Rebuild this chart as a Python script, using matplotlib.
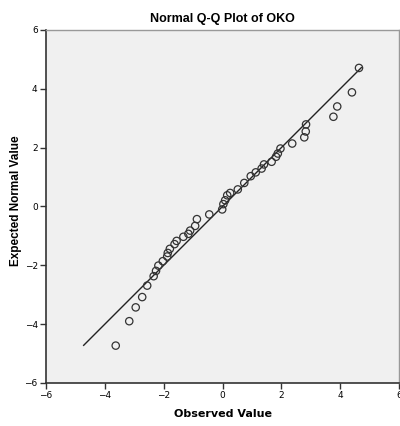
import numpy as np
import matplotlib
matplotlib.use("Agg")
import matplotlib.pyplot as plt

# observed vs expected normal values
observed = [-3.63, -3.17, -2.95, -2.73, -2.56, -2.34, -2.26, -2.18, -2.03, -1.88,
            -1.86, -1.79, -1.63, -1.56, -1.33, -1.16, -1.10, -0.93, -0.87, -0.45,
            -0.01, 0.03, 0.09, 0.16, 0.26, 0.52, 0.74, 0.96, 1.13, 1.33,
            1.41, 1.67, 1.82, 1.88, 1.97, 2.37, 2.78, 2.83, 2.84, 3.77,
            3.90, 4.40, 4.64]
expected = [-4.73, -3.90, -3.43, -3.08, -2.69, -2.37, -2.19, -2.01, -1.86, -1.70,
            -1.58, -1.44, -1.28, -1.17, -1.03, -0.93, -0.82, -0.66, -0.43, -0.27,
            -0.10, 0.08, 0.21, 0.38, 0.46, 0.58, 0.80, 1.03, 1.16, 1.29,
            1.43, 1.52, 1.69, 1.80, 1.97, 2.14, 2.35, 2.55, 2.79, 3.05,
            3.40, 3.88, 4.71]
line_range = [-4.72, 4.72]
ticks = [-6, -4, -2, 0, 2, 4, 6]

fig = plt.figure(figsize=(4.0, 4.26), dpi=100)
ax = fig.add_axes([0.115, 0.101, 0.8825, 0.8286])
ax.set_facecolor('#f0f0f0')

ax.plot(line_range, line_range, color='#222222', linewidth=1.0, zorder=2)
ax.scatter(observed, expected, s=28, facecolors='none', edgecolors='#333333',
           linewidths=0.9, zorder=3)

ax.set_xlim(-6, 6)
ax.set_ylim(-6, 6)
ax.set_xticks(ticks)
ax.set_yticks(ticks)
ax.tick_params(direction='out', length=4, width=1, color='#333333',
               labelsize=6.5, pad=2)
for lab in ax.get_xticklabels() + ax.get_yticklabels():
    lab.set_family('DejaVu Sans')

for s in ['left', 'bottom']:
    ax.spines[s].set_color('#333333')
    ax.spines[s].set_linewidth(1.2)
for s in ['top', 'right']:
    ax.spines[s].set_color('#999999')
    ax.spines[s].set_linewidth(1.0)

ax.set_title('Normal Q-Q Plot of OKO', fontsize=9, fontweight='bold',
             family='Liberation Sans', pad=6)
ax.set_xlabel('Observed Value', fontsize=8, fontweight='bold',
              family='DejaVu Sans', labelpad=6)
ax.set_ylabel('Expected Normal Value', fontsize=8.5, fontweight='bold',
              family='Liberation Sans')
ax.yaxis.set_label_coords(-0.068, 0.516)

fig.savefig('out.png', dpi=100, facecolor='white')
